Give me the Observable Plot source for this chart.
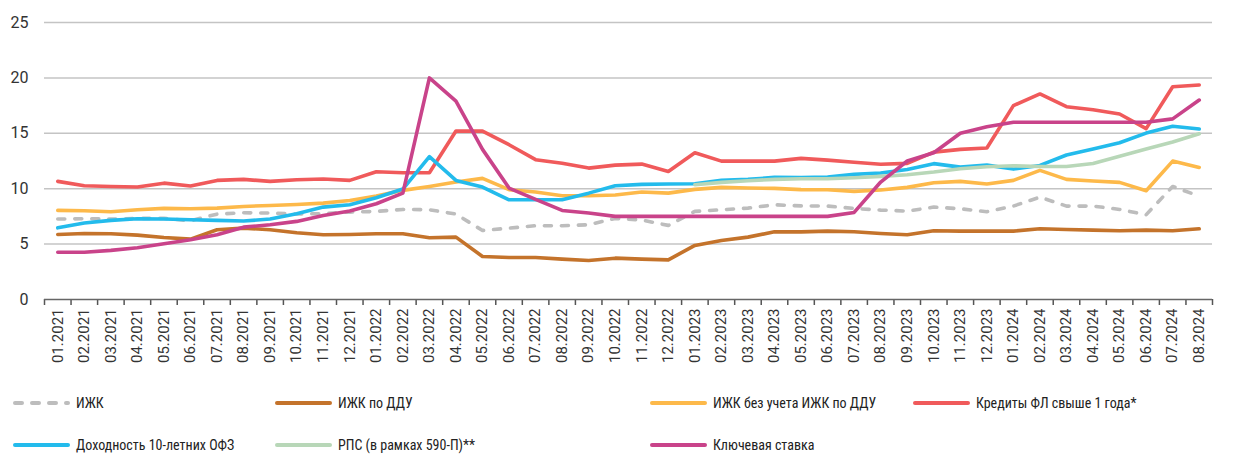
<!DOCTYPE html>
<html>
<head>
<meta charset="utf-8">
<script src="https://cdn.jsdelivr.net/npm/d3@7"></script>
<script src="https://cdn.jsdelivr.net/npm/@observablehq/plot@0.6"></script>
<style>
  html, body { margin: 0; padding: 0; background: #fff; }
  #wrap { position: relative; width: 1259px; height: 455px; overflow: hidden; }
  #chart { position: absolute; left: 0; top: 0; }
  .lg { position: absolute; display: flex; align-items: center; font-family: "Liberation Sans Narrow", "Roboto Condensed", "DejaVu Sans Condensed", Roboto, sans-serif; font-size: 14px; color: #222; white-space: nowrap; }
  .lg svg { margin-right: 6px; }
</style>
</head>
<body>
<div id="wrap"><div id="chart"></div></div>
<script>
const months = ["01.2021","02.2021","03.2021","04.2021","05.2021","06.2021","07.2021","08.2021","09.2021","10.2021","11.2021","12.2021",
"01.2022","02.2022","03.2022","04.2022","05.2022","06.2022","07.2022","08.2022","09.2022","10.2022","11.2022","12.2022",
"01.2023","02.2023","03.2023","04.2023","05.2023","06.2023","07.2023","08.2023","09.2023","10.2023","11.2023","12.2023",
"01.2024","02.2024","03.2024","04.2024","05.2024","06.2024","07.2024","08.2024"];

const yTicks = [0, 5, 10, 15, 20, 25];

const izhk = [7.26,7.29,7.26,7.32,7.32,7.1,7.71,7.83,7.8,7.71,7.75,7.89,7.95,8.13,8.1,7.71,6.23,6.44,6.66,6.66,6.75,7.32,7.17,6.69,
7.95,8.1,8.25,8.55,8.45,8.43,8.22,8.07,7.98,8.34,8.19,7.92,8.43,9.24,8.43,8.43,8.13,7.65,10.2,9.33];
const izhkDdu = [5.87,5.96,5.93,5.81,5.6,5.45,6.3,6.44,6.3,6.02,5.84,5.87,5.93,5.93,5.57,5.63,3.88,3.79,3.79,3.64,3.52,3.73,3.64,3.58,
4.88,5.33,5.63,6.11,6.1,6.17,6.11,5.96,5.84,6.2,6.17,6.17,6.17,6.38,6.32,6.26,6.2,6.26,6.2,6.38];
const izhkExDdu = [8.04,8.01,7.92,8.1,8.22,8.19,8.25,8.4,8.49,8.58,8.7,8.94,9.33,9.85,10.2,10.6,10.93,9.91,9.7,9.37,9.37,9.43,9.7,9.6,
9.94,10.12,10.06,10.03,9.92,9.9,9.76,9.88,10.12,10.54,10.66,10.42,10.75,11.65,10.84,10.69,10.57,9.82,12.49,11.92];
const loansFL = [10.66,10.27,10.2,10.15,10.5,10.24,10.75,10.84,10.66,10.81,10.87,10.75,11.53,11.44,11.44,15.2,15.2,13.97,12.62,12.3,11.86,12.13,12.22,11.56,
13.25,12.49,12.49,12.49,12.74,12.58,12.38,12.2,12.29,13.3,13.55,13.67,17.5,18.55,17.4,17.13,16.74,15.42,19.2,19.36];
const ofz10 = [6.47,6.9,7.14,7.29,7.26,7.2,7.14,7.08,7.26,7.74,8.34,8.55,9.19,9.97,12.89,10.75,10.15,9.0,9.0,9.0,9.6,10.27,10.39,10.42,
10.45,10.75,10.84,11.02,11.0,11.05,11.29,11.41,11.74,12.26,11.95,12.13,11.77,12.1,13.04,13.58,14.15,15.02,15.63,15.39];
const rps = [null,null,null,null,null,null,null,null,null,null,null,null,null,null,null,null,null,null,null,null,null,null,null,null,
10.36,10.57,10.72,10.84,10.9,10.9,10.99,11.11,11.26,11.5,11.8,11.98,12.07,12.01,12.01,12.28,12.92,13.58,14.21,14.96];
const keyRate = [4.27,4.27,4.43,4.67,5.03,5.39,5.84,6.53,6.75,7.05,7.59,7.98,8.64,9.6,20.0,17.9,13.55,10.06,9.03,8.04,7.8,7.5,7.5,7.5,
7.5,7.5,7.5,7.5,7.5,7.5,7.86,10.6,12.5,13.25,15.0,15.6,16.0,16.0,16.0,16.0,16.0,16.0,16.3,18.0];

const series = [
  {name: "ИЖК", values: izhk, color: "#bdbdbd", dash: "7,10"},
  {name: "ИЖК по ДДУ", values: izhkDdu, color: "#c4732b"},
  {name: "ИЖК без учета ИЖК по ДДУ", values: izhkExDdu, color: "#fdb94a"},
  {name: "Кредиты ФЛ свыше 1 года*", values: loansFL, color: "#f05a5b"},
  {name: "Доходность 10-летних ОФЗ", values: ofz10, color: "#23bbec"},
  {name: "РПС (в рамках 590-П)**", values: rps, color: "#b8d7b8"},
  {name: "Ключевая ставка", values: keyRate, color: "#c9438a"}
];

const idx = d3.range(months.length);

const lineMarks = series.map(s => Plot.line(idx.map(i => ({i, v: s.values[i]})), {
  x: "i", y: "v", stroke: s.color, strokeWidth: 3.6,
  strokeDasharray: s.dash, strokeLinecap: "round", strokeLinejoin: "round",
  defined: d => d.v != null
}));

const chart = Plot.plot({
  width: 1259,
  height: 372,
  marginLeft: 44,
  marginRight: 47,
  marginTop: 22,
  marginBottom: 73,
  style: {fontFamily: "Roboto, sans-serif", background: "#fff", overflow: "visible"},
  x: {type: "linear", domain: [-0.5, months.length - 0.5]},
  y: {domain: [0, 25]},
  marks: [
    Plot.gridY(yTicks.filter(t => t > 0), {stroke: "#c4c4c4", strokeOpacity: 1, strokeWidth: 1.5}),
    Plot.axisY(yTicks, {tickSize: 0, tickPadding: 16, fontSize: 16, fill: "#333", label: null}),
    Plot.axisX(idx, {tickFormat: i => months[i], tickRotate: -90, tickSize: 0, tickPadding: 9, fontSize: 15, fill: "#333", label: null}),
    Plot.axisX(idx.concat([months.length]).map(i => i - 0.5), {tickFormat: () => "", tickSize: 6, stroke: "#555", strokeWidth: 1.5, label: null}),
    Plot.ruleY([0], {stroke: "#666", strokeWidth: 1.5}),
    ...lineMarks
  ]
});
document.getElementById("chart").appendChild(chart);

// legend
const legendPos = [
  [13, 403], [275, 403], [650, 403], [913, 403],
  [13, 445], [275, 445], [650, 445]
];
const wrap = document.getElementById("wrap");
series.forEach((s, k) => {
  const div = document.createElement("div");
  div.className = "lg";
  const [lx, ly] = legendPos[k];
  div.style.left = lx + "px";
  div.style.top = (ly - 10) + "px";
  div.style.height = "20px";
  const w = 57;
  div.innerHTML = `<svg width="${w}" height="10"><line x1="2" y1="5" x2="${w - 2}" y2="5" stroke="${s.color}" stroke-width="4" stroke-linecap="round" ${s.dash ? 'stroke-dasharray="7,10"' : ''}/></svg><span>${s.name}</span>`;
  wrap.appendChild(div);
});
</script>
</body>
</html>
